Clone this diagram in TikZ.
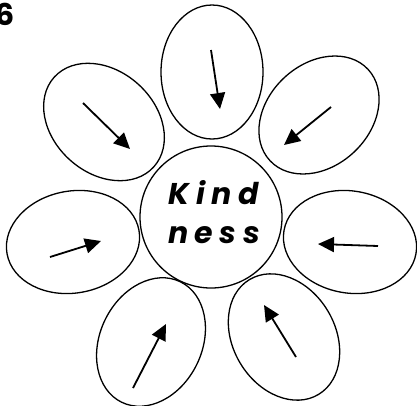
\documentclass[tikz,border=0pt]{standalone}
\usepackage{fontspec}
\setsansfont{Poppins}
\usetikzlibrary{arrows.meta, shapes.geometric}

\begin{document}
\begin{tikzpicture}[x=1pt, y=-1pt,
    petal/.style={draw, ellipse, line width=1.3pt, inner sep=0pt, minimum width=134pt, minimum height=102pt},
    pointer/.style={line width=1.8pt, -{Triangle[length=16pt, width=15pt]}}]
                        \useasboundingbox (0,0) rectangle (417,405);
                        % centre
                        \node[draw, circle, line width=1.3pt, inner sep=0pt, minimum size=142pt] (heart) at (211,217) {};
                        \node[font=\sffamily\bfseries\itshape\fontsize{30}{39}\selectfont\addfontfeature{LetterSpace=22}, align=center] (word) at (214,212) {Kind\\ness};
                        % petals
                        \node[petal, rotate=90] (p1) at (212,72) {};
                        \node[petal, rotate=43] (p2) at (319,115) {};
                        \node[petal, rotate=-10] (p3) at (350,242) {};
                        \node[petal, rotate=-59] (p4) at (284,337) {};
                        \node[petal, rotate=-116] (p5) at (151,342) {};
                        \node[petal, rotate=-170] (p6) at (73,242) {};
                        \node[petal, rotate=138] (p7) at (104,122) {};
                        % arrows
                        \draw[pointer] (211,50) -- (220,109);
                        \draw[pointer] (331,107) -- (284,145);
                        \draw[pointer] (378,246) -- (318,244);
                        \draw[pointer] (296,357) -- (264,305);
                        \draw[pointer] (133,388) -- (166,324);
                        \draw[pointer] (50,257) -- (101,241);
                        \draw[pointer] (83,103) -- (130,149);
                        % number
                        \node[font=\sffamily\bfseries\fontsize{30}{30}\selectfont, anchor=north east, inner sep=0pt] (num) at (15,3) {6};
\end{tikzpicture}
\end{document}
